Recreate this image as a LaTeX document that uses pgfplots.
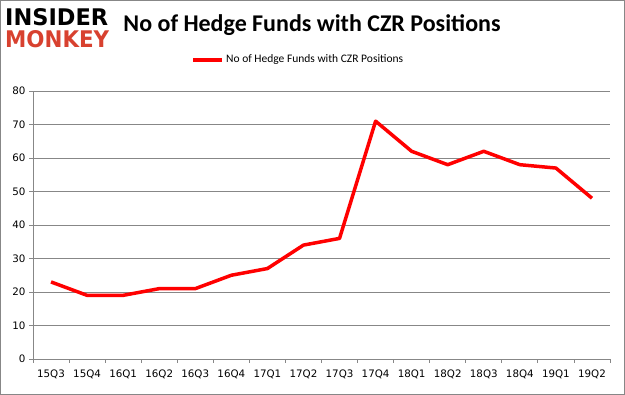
\documentclass[border=0pt]{standalone}
\usepackage{pgfplots}
\pgfplotsset{compat=1.18}
\usepackage{graphicx}
\usepackage{fontspec}
\setmainfont{Carlito}
\newfontfamily\logofont{DejaVu Sans}
\newfontfamily\tickfont{DejaVu Sans}
\definecolor{gridgrey}{HTML}{878787}
\definecolor{monkeyred}{HTML}{D8412F}
\begin{document}
\begin{tikzpicture}[x=1pt,y=1pt]
\draw[gridgrey,line width=1pt] (0.5,0.5) rectangle (624.5,394.5);
\node[anchor=south west,inner sep=0pt] at (5,369) {\resizebox{103pt}{17pt}{\logofont\bfseries INSIDER}};
\node[anchor=south west,inner sep=0pt] at (5,347) {\resizebox{104pt}{17pt}{\color{monkeyred}\logofont\bfseries MONKEY}};
\node[anchor=center,inner sep=0pt] at (312,370) {\fontsize{24}{28}\selectfont\bfseries No of Hedge Funds with CZR Positions};
\draw[red,line width=3.5pt] (193,335) -- (222,335);
\node[anchor=west,inner sep=0pt] at (226,335) {\fontsize{11.5}{13}\selectfont No of Hedge Funds with CZR Positions};
\begin{axis}[
  at={(33pt,36pt)}, anchor=south west,
  scale only axis, width=577pt, height=268pt,
  xmin=-0.5, xmax=15.5, ymin=0, ymax=80,
  axis x line*=bottom, axis y line*=left,
  axis line style={gridgrey, line width=0.8pt},
  xtick={-0.5,0.5,...,15.5},
  xticklabels={15Q3,15Q4,16Q1,16Q2,16Q3,16Q4,17Q1,17Q2,17Q3,17Q4,18Q1,18Q2,18Q3,18Q4,19Q1,19Q2},
  x tick label as interval,
  x tick label style={yshift=-3pt},
  ytick={0,10,...,80},
  ymajorgrids,
  grid style={gridgrey, line width=0.8pt},
  tick align=outside,
  major tick length=4pt,
  tick style={gridgrey, line width=0.8pt},
  tick label style={font=\tickfont\fontsize{10.3}{12}\selectfont, text=black},
  /pgf/number format/assume math mode=true,
  clip=false,
]
\addplot[red, line width=3.5pt, line join=round] coordinates {
(0,23) (1,19) (2,19) (3,21) (4,21) (5,25) (6,27) (7,34) (8,36) (9,71) (10,62) (11,58) (12,62) (13,58) (14,57) (15,48)
};
\end{axis}
\end{tikzpicture}
\end{document}
